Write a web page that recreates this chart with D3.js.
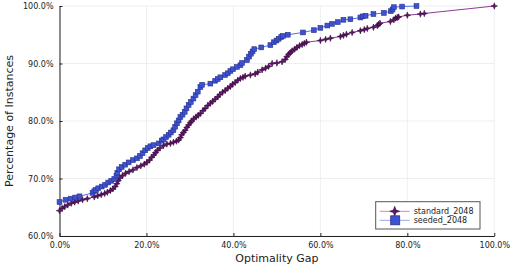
<!DOCTYPE html>
<html>
<head>
<meta charset="utf-8">
<script src="https://cdn.jsdelivr.net/npm/d3@7"></script>
<style>
    body { margin: 0; background: #ffffff; }
    #container { width: 511px; height: 268px; }
    text { font-family: 'DejaVu Sans', sans-serif; }
</style>
</head>
<body>
<div id="container"></div>
<script>
// optimality gap (%) and cumulative share of instances (%)
const standardGap = [0, 0.6, 1.2, 1.9, 2.7, 3.5, 4.3, 5.3, 6.4, 8.0, 8.8, 9.6, 10.4, 11.0, 11.7, 12.3, 12.8, 13.2, 13.5, 13.9,
    14.5, 15.2, 16.0, 16.9, 17.8, 18.7, 19.5, 20.1, 20.7, 21.2, 21.7, 22.1, 22.5, 23.1, 23.9, 24.7, 25.5, 26.2, 26.9, 27.4,
    27.8, 28.1, 28.5, 28.9, 29.3, 29.7, 30.1, 30.4, 30.9, 31.4, 31.9, 32.4, 33.0, 33.5, 34.1, 34.7, 35.2, 35.8, 36.4, 36.9,
    37.5, 38.1, 38.7, 39.3, 39.8, 40.4, 41.0, 41.6, 42.2, 42.7, 43.9, 45.0, 45.6, 46.6, 47.4, 48.1, 48.9, 50.0, 51.2, 51.9,
    52.3, 52.7, 53.1, 53.5, 54.1, 54.6, 55.2, 55.8, 56.3, 56.8, 60.0, 61.2, 62.3, 64.6, 65.3, 66.0, 67.3, 69.2, 70.1, 70.8,
    72.2, 73.1, 73.4, 73.7, 76.1, 76.9, 77.3, 77.7, 78.0, 80.0, 83.0, 83.9, 100];
const standardPct = [64.4, 64.8, 65.1, 65.4, 65.7, 65.9, 66.1, 66.3, 66.5, 66.8, 67.0, 67.2, 67.4, 67.6, 67.9, 68.2, 68.6, 69.1, 69.6, 70.1,
    70.5, 70.9, 71.2, 71.5, 71.9, 72.2, 72.5, 72.8, 73.2, 73.7, 74.1, 74.5, 74.9, 75.3, 75.7, 76.0, 76.1, 76.3, 76.5, 76.7,
    77.1, 77.6, 78.0, 78.4, 78.9, 79.3, 79.7, 80.0, 80.4, 80.7, 81.0, 81.3, 81.8, 82.2, 82.7, 83.1, 83.4, 83.8, 84.2, 84.6,
    85.0, 85.3, 85.7, 86.0, 86.4, 86.7, 87.1, 87.4, 87.6, 87.8, 88.0, 88.2, 88.5, 88.9, 89.2, 89.5, 90.0, 90.1, 90.3, 90.7,
    91.2, 91.6, 91.9, 92.2, 92.5, 92.8, 93.1, 93.3, 93.5, 93.7, 94.0, 94.2, 94.4, 94.7, 94.9, 95.1, 95.4, 95.7, 95.9, 96.1,
    96.3, 96.6, 96.8, 97.0, 97.3, 97.6, 97.9, 98.0, 98.1, 98.4, 98.6, 98.7, 100];

const seededGap = [0, 1.4, 2.6, 3.6, 4.6, 7.6, 8.0, 8.4, 8.9, 9.7, 10.5, 11.2, 11.9, 12.6, 13.1, 13.3, 13.7, 14.3, 15.1, 15.9,
    16.9, 17.8, 18.5, 19.1, 19.7, 20.3, 20.9, 21.6, 22.8, 23.5, 23.9, 24.5, 25.1, 25.6, 26.2, 26.6, 27.0, 27.4, 27.8, 28.3,
    28.8, 29.2, 29.7, 30.2, 30.8, 31.3, 31.8, 32.4, 32.8, 34.7, 35.8, 36.4, 37.0, 38.1, 38.7, 39.3, 39.9, 40.8, 41.6, 42.0,
    43.1, 43.6, 44.0, 44.4, 44.8, 46.4, 48.5, 49.3, 49.9, 50.4, 51.0, 51.4, 52.5, 56.0, 58.5, 60.0, 61.6, 62.7, 64.0, 65.3,
    66.9, 69.2, 69.7, 70.4, 72.2, 74.6, 76.2, 76.6, 76.9, 78.8, 82.1];
const seededPct = [65.9, 66.3, 66.5, 66.7, 66.9, 67.5, 67.8, 68.0, 68.3, 68.6, 68.9, 69.3, 69.6, 69.9, 70.5, 71.0, 71.6, 72.0, 72.4, 72.8,
    73.2, 73.5, 73.9, 74.4, 74.9, 75.3, 75.6, 75.8, 76.1, 76.6, 76.8, 77.2, 77.6, 78.0, 78.4, 79.0, 79.6, 80.1, 80.7, 81.1,
    81.6, 82.2, 82.8, 83.3, 83.9, 84.5, 85.1, 85.9, 86.3, 86.5, 87.0, 87.3, 87.6, 88.0, 88.3, 88.7, 89.0, 89.4, 89.7, 90.1,
    90.6, 91.2, 91.7, 92.1, 92.5, 92.8, 93.2, 93.7, 94.0, 94.3, 94.6, 94.8, 95.0, 95.4, 95.8, 96.2, 96.6, 96.9, 97.2, 97.6,
    97.7, 98.0, 98.2, 98.3, 98.6, 98.8, 99.1, 99.4, 99.8, 99.9, 100];

const xTicks = [0, 20, 40, 60, 80, 100];
const yTicks = [60, 70, 80, 90, 100];
const seriesNames = ['standard_2048', 'seeded_2048'];

const W = 511, H = 268;
const plotLeft = 59.5, plotRight = 494.3, plotTop = 6, plotBottom = 236;

const svg = d3.select('#container')
    .append('svg')
    .attr('width', W)
    .attr('height', H);

const x = d3.scaleLinear().domain([0, 100]).range([plotLeft, plotRight]);
const y = d3.scaleLinear().domain([60, 100]).range([plotBottom, plotTop]);

// grid
svg.append('g')
    .selectAll('line')
    .data(xTicks)
    .join('line')
    .attr('x1', d => x(d)).attr('x2', d => x(d))
    .attr('y1', plotTop).attr('y2', plotBottom)
    .attr('stroke', '#ebebeb').attr('stroke-width', 0.8);
svg.append('g')
    .selectAll('line')
    .data(yTicks)
    .join('line')
    .attr('x1', plotLeft).attr('x2', plotRight)
    .attr('y1', d => y(d)).attr('y2', d => y(d))
    .attr('stroke', '#ebebeb').attr('stroke-width', 0.8);

// axes
const fmt = d => d.toFixed(1) + '%';
const xAxis = svg.append('g')
    .attr('transform', `translate(0,${plotBottom})`)
    .call(d3.axisBottom(x).tickValues(xTicks).tickFormat(fmt).tickSizeInner(-3).tickSizeOuter(0).tickPadding(6));
const yAxis = svg.append('g')
    .attr('transform', `translate(${plotLeft},0)`)
    .call(d3.axisLeft(y).tickValues(yTicks).tickFormat(fmt).tickSizeInner(-3).tickSizeOuter(0).tickPadding(6));
[xAxis, yAxis].forEach(a => {
    a.select('.domain').attr('stroke', '#222').attr('stroke-width', 1);
    a.selectAll('.tick line').attr('stroke', '#222');
    a.selectAll('.tick text')
        .style('font-family', "'DejaVu Sans', sans-serif")
        .style('font-size', '8px')
        .attr('fill', '#222');
});

svg.append('text')
    .text('Optimality Gap')
    .attr('x', (plotLeft + plotRight) / 2)
    .attr('y', 262)
    .attr('text-anchor', 'middle')
    .style('font-size', '11px')
    .attr('fill', '#222');
svg.append('text')
    .text('Percentage of Instances')
    .attr('transform', `translate(13,${(plotTop + plotBottom) / 2}) rotate(-90)`)
    .attr('text-anchor', 'middle')
    .style('font-size', '11px')
    .attr('fill', '#222');

const line = d3.line().x(d => x(d[0])).y(d => y(d[1]));
const standard = standardGap.map((g, i) => [g, standardPct[i]]);
const seeded = seededGap.map((g, i) => [g, seededPct[i]]);

const star4 = 'M0,-3.2L0.8,-0.8L3.2,0L0.8,0.8L0,3.2L-0.8,0.8L-3.2,0L-0.8,-0.8Z';

// standard series
svg.append('path')
    .datum(standard)
    .attr('d', line)
    .attr('fill', 'none')
    .attr('stroke', '#8e3b97')
    .attr('stroke-width', 1);
svg.append('g')
    .selectAll('path')
    .data(standard)
    .join('path')
    .attr('d', star4)
    .attr('transform', d => `translate(${x(d[0])},${y(d[1])})`)
    .attr('fill', '#5b1363')
    .attr('stroke', '#3a0a40')
    .attr('stroke-width', 0.6);

// seeded series
svg.append('path')
    .datum(seeded)
    .attr('d', line)
    .attr('fill', 'none')
    .attr('stroke', '#5a6ee0')
    .attr('stroke-width', 1);
svg.append('g')
    .selectAll('rect')
    .data(seeded)
    .join('rect')
    .attr('x', d => x(d[0]) - 2.4)
    .attr('y', d => y(d[1]) - 2.4)
    .attr('width', 4.8)
    .attr('height', 4.8)
    .attr('fill', '#3c52d2')
    .attr('stroke', '#28308a')
    .attr('stroke-width', 0.6);

// legend
const lg = svg.append('g').attr('transform', 'translate(375.7,201.7)');
lg.append('rect')
    .attr('width', 104.3).attr('height', 27.3)
    .attr('fill', '#fff').attr('stroke', '#555').attr('stroke-width', 1);
const legendRows = [
    { name: seriesNames[0], line: '#c28ac8', y: 9.6 },
    { name: seriesNames[1], line: '#97a6ee', y: 18.6 }
];
legendRows.forEach(r => {
    lg.append('line')
        .attr('x1', 4).attr('x2', 34)
        .attr('y1', r.y).attr('y2', r.y)
        .attr('stroke', r.line).attr('stroke-width', 1);
    lg.append('text')
        .text(r.name)
        .attr('x', 38).attr('y', r.y)
        .attr('dy', '0.35em')
        .style('font-size', '8px')
        .attr('fill', '#222');
});
lg.append('path')
    .attr('d', 'M0,-5L1.3,-1.3L5,0L1.3,1.3L0,5L-1.3,1.3L-5,0L-1.3,-1.3Z')
    .attr('transform', `translate(19,${legendRows[0].y})`)
    .attr('fill', '#5b1363')
    .attr('stroke', '#3a0a40')
    .attr('stroke-width', 0.6);
lg.append('rect')
    .attr('x', 15).attr('y', legendRows[1].y - 4.5)
    .attr('width', 9).attr('height', 9)
    .attr('fill', '#3c52d2')
    .attr('stroke', '#28308a')
    .attr('stroke-width', 0.8);
</script>
</body>
</html>
